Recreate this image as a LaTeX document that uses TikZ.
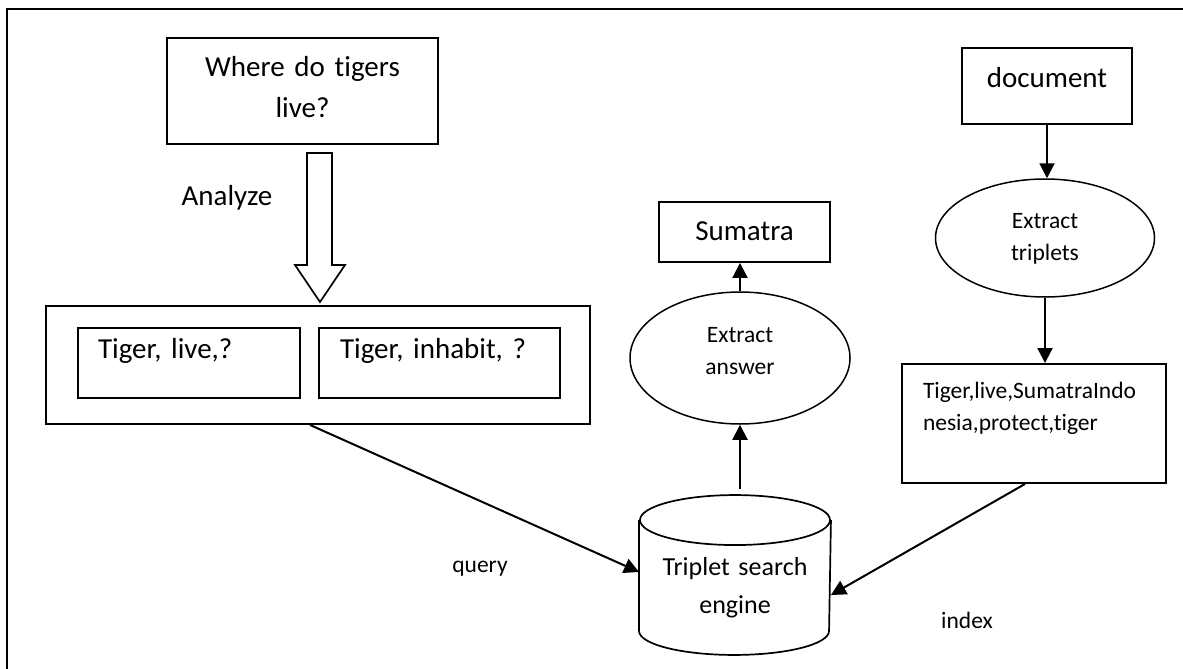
\documentclass[tikz,border=0pt]{standalone}
\usepackage{fontspec}
\setmainfont{Carlito}[Ligatures={NoCommon}]
\usetikzlibrary{arrows.meta,shapes.geometric,calc}
\begin{document}
\frenchspacing
\begin{tikzpicture}[x=1pt,y=-1pt,
  line width=1.9pt,
  big/.style={font=\fontsize{29}{41}\selectfont},
  mid/.style={font=\fontsize{26}{38}\selectfont},
  small/.style={font=\fontsize{23.5}{32}\selectfont},
  box/.style={draw, rectangle, inner xsep=0pt, inner ysep=0pt},
  oval/.style={draw, ellipse, line width=1.5pt, inner sep=0pt, small, align=center, text width=110pt},
  arr/.style={-{Triangle[length=15pt,width=15pt]}, line width=2pt},
  hollow/.style={draw, line width=1.7pt, fill=white},
]
\useasboundingbox (0,0) rectangle (1183,669);

% page frame, running off the right and bottom edges
\draw[line width=2.4pt] (7,669) -- (7,9) -- (1183,9);

% question and its analysis
\node[box, big, minimum width=271, minimum height=106, text width=271pt, align=center,
      text height=39pt, text depth=67pt] (q) at (302.5,91) {Where do tigers\\live?};
\node[big, anchor=base] (analyze) at (227,205) {Analyze};

\node[box, minimum width=544, minimum height=118] (outer) at (318,365) {};
\node[box, big, minimum width=222, minimum height=70, inner xsep=20pt, text width=182pt,
      align=left, text height=30pt, text depth=40pt] (t1) at (189,363) {Tiger, live,?};
\node[box, big, minimum width=241, minimum height=70, inner xsep=21pt, text width=199pt,
      align=left, text height=30pt, text depth=40pt] (t2) at (439.5,363) {Tiger, inhabit, ?};

% hollow block arrow from the question down to the triplet queries
\draw[hollow] (307,153) -- (332,153) -- (332,265) -- (345,265) -- (320,302)
  -- (295,265) -- (307,265) -- cycle;

% answer side
\node[box, big, minimum width=171, minimum height=60, text width=171pt, align=center,
      text height=38pt, text depth=22pt] (sum) at (744.5,232) {Sumatra};
\node[oval, minimum width=220, minimum height=132, text height=18pt, text depth=50pt]
      (ea) at (740,358) {Extract\\answer};

% triplet search engine (cylinder drawn around the node)
\node[rectangle, inner sep=0pt, minimum width=190, minimum height=158, mid,
      text width=190pt, align=center, text height=79pt, text depth=79pt]
      (db) at (735,575) {Triplet search\\engine};
\begin{scope}[line width=1.7pt]
  \draw ($(db.north west)+(0,25)$) -- ($(db.south west)+(0,-24)$)
    arc[start angle=180, end angle=360, x radius=95pt, y radius=24pt]
    -- ($(db.north east)+(0,25)$);
  \draw ($(db.north)+(0,25)$) ellipse[x radius=95pt, y radius=25pt];
\end{scope}

% document side
\node[box, big, minimum width=170, minimum height=76, text width=170pt, align=center,
      text height=39pt, text depth=37pt] (doc) at (1047,86) {document};
\node[oval, minimum width=219, minimum height=118, text height=18pt, text depth=38pt]
      (et) at (1045,238) {Extract\\triplets};
\node[box, small, minimum width=264, minimum height=119, inner xsep=21pt, text width=222pt,
      align=left, text height=34pt, text depth=85pt] (trip) at (1034,423.5)
      {Tiger,live,SumatraIndo\\nesia,protect,tiger};

% connectors
\draw[arr] (ea.north) -- (ea.north |- sum.south);
\draw[arr, shorten <=6pt] (ea.south |- db.north) -- (ea.south);
\draw[arr] (doc.south) -- (doc.south |- et.north);
\draw[arr] (et.south) -- (et.south |- trip.north);
\draw[arr] ($(outer.south)+(-8,0)$) -- ($(db.west)+(0,-3)$);
\draw[arr] ($(trip.south)+(-9,0)$) -- ($(db.east)+(0,20)$);

% connector labels
\node[small, anchor=base] (query) at (480,572) {query};
\node[small, anchor=base] (index) at (967,628) {index};
\end{tikzpicture}
\end{document}
